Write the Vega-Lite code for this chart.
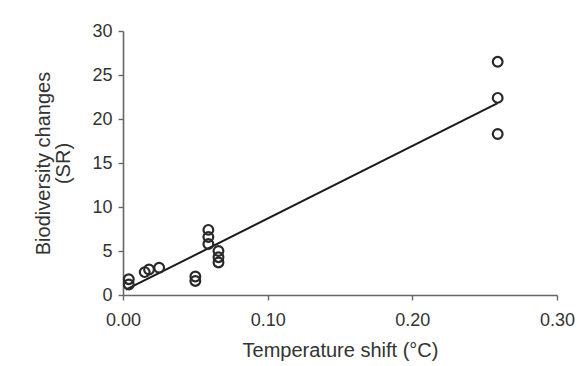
{
  "$schema": "https://vega.github.io/schema/vega-lite/v6.json",
  "autosize": {"type": "none"},
  "padding": {"left": 123, "top": 31, "right": 28, "bottom": 71},
  "width": 434,
  "height": 264,
  "background": "white",
  "config": {
    "view": {"stroke": null},
    "font": "Liberation Sans",
    "axis": {
      "grid": false,
      "domainColor": "#666666",
      "domainWidth": 1.6,
      "tickColor": "#666666",
      "tickWidth": 1.4,
      "tickSize": 5,
      "labelColor": "#333333",
      "labelFontSize": 18,
      "labelFont": "Liberation Sans",
      "labelFlush": false,
      "labelOverlap": false,
      "titleColor": "#333333",
      "titleFontSize": 20,
      "titleFont": "Liberation Sans",
      "titleFontWeight": "normal"
    }
  },
  "datasets": {
    "points": [
      {"temp": 0.004, "sr": 1.8},
      {"temp": 0.004, "sr": 1.2},
      {"temp": 0.015, "sr": 2.6},
      {"temp": 0.018, "sr": 2.9},
      {"temp": 0.025, "sr": 3.1},
      {"temp": 0.050, "sr": 2.1},
      {"temp": 0.050, "sr": 1.6},
      {"temp": 0.059, "sr": 7.4},
      {"temp": 0.059, "sr": 6.6},
      {"temp": 0.059, "sr": 5.8},
      {"temp": 0.066, "sr": 5.0},
      {"temp": 0.066, "sr": 4.3},
      {"temp": 0.066, "sr": 3.7},
      {"temp": 0.259, "sr": 26.5},
      {"temp": 0.259, "sr": 22.4},
      {"temp": 0.259, "sr": 18.3}
    ],
    "fit": [
      {"temp": 0.002, "sr": 0.6},
      {"temp": 0.259, "sr": 21.8}
    ]
  },
  "layer": [
    {
      "data": {"name": "fit"},
      "mark": {"type": "line", "color": "#1a1a1a", "strokeWidth": 2},
      "encoding": {
        "x": {"field": "temp", "type": "quantitative"},
        "y": {"field": "sr", "type": "quantitative"}
      }
    },
    {
      "data": {"name": "points"},
      "mark": {"type": "point", "shape": "circle", "filled": false, "color": "#2a2a2a", "strokeWidth": 2.2, "size": 95, "opacity": 1},
      "encoding": {
        "x": {
          "field": "temp",
          "type": "quantitative",
          "scale": {"domain": [0, 0.3], "nice": false},
          "axis": {"values": [0, 0.1, 0.2, 0.3], "format": ".2f", "title": "Temperature shift (°C)", "labelPadding": 11, "titlePadding": 11}
        },
        "y": {
          "field": "sr",
          "type": "quantitative",
          "scale": {"domain": [0, 30], "nice": false},
          "axis": {"values": [0, 5, 10, 15, 20, 25, 30], "title": ["Biodiversity changes", "(SR)"], "labelPadding": 6, "titlePadding": 18, "titleLineHeight": 20}
        }
      }
    }
  ]
}
